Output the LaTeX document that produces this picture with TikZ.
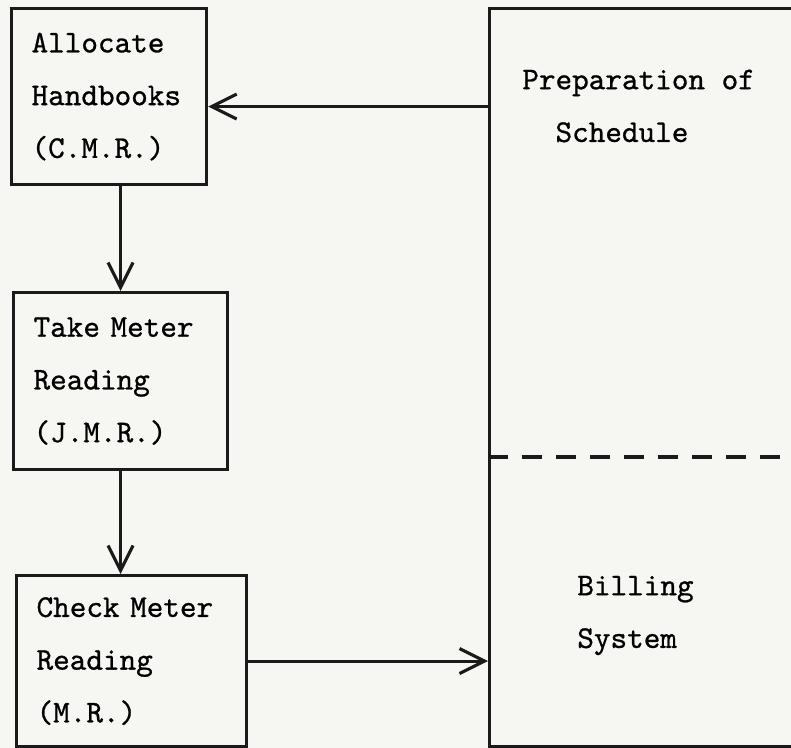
\documentclass[tikz,border=0pt]{standalone}
\usepackage{fontspec}
\setmonofont{lmmono10-regular.otf}[FakeBold=0.8]
\usetikzlibrary{positioning, arrows.meta, calc}
\definecolor{ink}{HTML}{1a1a1a}
\definecolor{paper}{HTML}{f6f6f2}

\begin{document}
\begin{tikzpicture}[font=\ttfamily\fontsize{18}{30}\selectfont,
  stepbox/.style={draw=ink, line width=1.8pt, align=left, anchor=north west, inner xsep=0.4cm, inner ysep=0pt},
  arr/.style={-{Straight Barb[length=5mm, width=5mm]}, line width=1.8pt, ink}
]
  \clip (0,0) rectangle (15.82,-14.96);
  \fill[paper] (0,0) rectangle (15.82,-14.96);

  \node[stepbox, text width=3.1cm, minimum height=3.52cm] (alloc) at (0.2,-0.14) {Allocate\\Handbooks\\(C.M.R.)};
  \node[stepbox, text width=3.48cm, minimum height=3.54cm] (take) at (0.24,-5.82) {Take Meter\\Reading\\(J.M.R.)};
  \node[stepbox, text width=3.8cm, minimum height=3.42cm] (chk) at (0.3,-11.48) {Check Meter\\Reading\\(M.R.)};
  \node[stepbox, minimum width=8cm, minimum height=14.76cm] (sys) at (9.76,-0.14) {};

  \node[anchor=west, align=left, inner sep=0pt] (prep) at (10.44,-2.12) {Preparation of\\\hphantom{Pr}Schedule};
  \node[anchor=west, align=left, inner sep=0pt] (bill) at (11.54,-12.31) {Billing\\System};

  \coordinate (split) at (9.76,-9.14);
  \draw[ink, line width=1.8pt, dash pattern=on 0.4cm off 0.28cm] (split) -- (split -| sys.east);

  \draw[arr] ($(sys.west |- alloc.east)+(0,-0.2)$) -- ($(alloc.east)+(0,-0.2)$);
  \draw[arr] (alloc.south -| take.north) -- (take.north);
  \draw[arr] (take.south) -- (take.south |- chk.north);
  \draw[arr] (chk.east) -- (chk.east -| sys.west);
\end{tikzpicture}
\end{document}
